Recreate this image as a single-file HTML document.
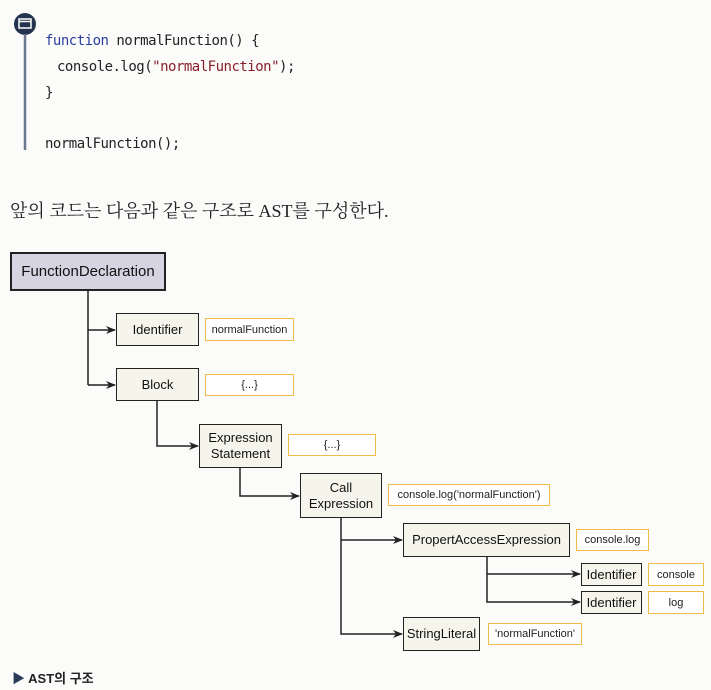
<!DOCTYPE html>
<html><head><meta charset="utf-8"><style>
body{margin:0;width:711px;height:690px;background:#fbfbfa;position:relative;overflow:hidden;font-family:"Liberation Sans","Noto Sans CJK KR",sans-serif}
.a{position:absolute}
.code{font-family:"DejaVu Sans Mono","Liberation Mono",monospace;font-size:14px;color:#222;letter-spacing:-0.5px}
.n{position:absolute;border:1.5px solid #222;background:#f6f5ec;box-sizing:border-box;display:flex;align-items:center;justify-content:center;text-align:center;font-size:13px;line-height:16px;color:#111}
.v{position:absolute;border:1.5px solid #f0bb45;background:#fff;box-sizing:border-box;display:flex;align-items:center;justify-content:center;font-size:11px;color:#222}
</style></head><body>
<svg class="a" style="left:0;top:0" width="711" height="690">
<defs><marker id="ar" markerWidth="10" markerHeight="8" refX="9" refY="4" orient="auto" markerUnits="userSpaceOnUse"><path d="M0,0 L10,4 L0,8 L3,4z" fill="#222"/></marker></defs>
<circle cx="25" cy="24" r="11" fill="#24344f"/>
<rect x="19" y="19" width="12" height="9" fill="none" stroke="#fff" stroke-width="1.5"/>
<line x1="19" y1="21.5" x2="31" y2="21.5" stroke="#fff" stroke-width="1.5"/>
<line x1="25" y1="34" x2="25" y2="150" stroke="#6a7890" stroke-width="2.5"/>
<g stroke="#222" stroke-width="1.5" fill="none">
<path d="M88 291 V385"/><path d="M88 330 H115" marker-end="url(#ar)"/><path d="M88 385 H115" marker-end="url(#ar)"/>
<path d="M157 401 V446 H198" marker-end="url(#ar)"/>
<path d="M240 468 V496 H299" marker-end="url(#ar)"/>
<path d="M341 518 V634 H402" marker-end="url(#ar)"/><path d="M341 540 H402" marker-end="url(#ar)"/>
<path d="M487 557 V602 H580" marker-end="url(#ar)"/><path d="M487 574 H580" marker-end="url(#ar)"/>
</g></svg>
<div class="a code" style="left:45px;top:33px"><span style="color:#2a3fa0">function</span> normalFunction() {</div>
<div class="a code" style="left:57px;top:59px">console.log(<span style="color:#8a1f2a">"normalFunction"</span>);</div>
<div class="a code" style="left:45px;top:85px">}</div>
<div class="a code" style="left:45px;top:136px">normalFunction();</div>
<div class="a" style="left:10px;top:197px;font-family:'Liberation Serif','Noto Serif CJK SC',serif;font-size:18px;color:#222">앞의 코드는 다음과 같은 구조로 AST를 구성한다.</div>
<div class="n" style="left:10px;top:252px;width:156px;height:39px;background:#d5d4e0;border-width:2px;font-size:15px">FunctionDeclaration</div>
<div class="n" style="left:116px;top:313px;width:83px;height:33px">Identifier</div>
<div class="v" style="left:205px;top:318px;width:89px;height:23px">normalFunction</div>
<div class="n" style="left:116px;top:368px;width:83px;height:33px">Block</div>
<div class="v" style="left:205px;top:374px;width:89px;height:22px">{...}</div>
<div class="n" style="left:199px;top:424px;width:83px;height:44px">Expression<br>Statement</div>
<div class="v" style="left:288px;top:434px;width:88px;height:22px">{...}</div>
<div class="n" style="left:300px;top:473px;width:82px;height:45px">Call<br>Expression</div>
<div class="v" style="left:388px;top:484px;width:162px;height:22px">console.log('normalFunction')</div>
<div class="n" style="left:403px;top:523px;width:167px;height:34px">PropertAccessExpression</div>
<div class="v" style="left:576px;top:529px;width:73px;height:22px">console.log</div>
<div class="n" style="left:581px;top:563px;width:61px;height:23px">Identifier</div>
<div class="v" style="left:648px;top:563px;width:56px;height:23px">console</div>
<div class="n" style="left:581px;top:591px;width:61px;height:23px">Identifier</div>
<div class="v" style="left:648px;top:591px;width:56px;height:23px">log</div>
<div class="n" style="left:403px;top:617px;width:77px;height:34px">StringLiteral</div>
<div class="v" style="left:488px;top:623px;width:94px;height:22px">'normalFunction'</div>
<div class="a" style="left:12px;top:668px;font-size:13px;font-weight:bold;color:#222"><span style="color:#2a3a5a">▶</span> AST의 구조</div>
</body></html>
